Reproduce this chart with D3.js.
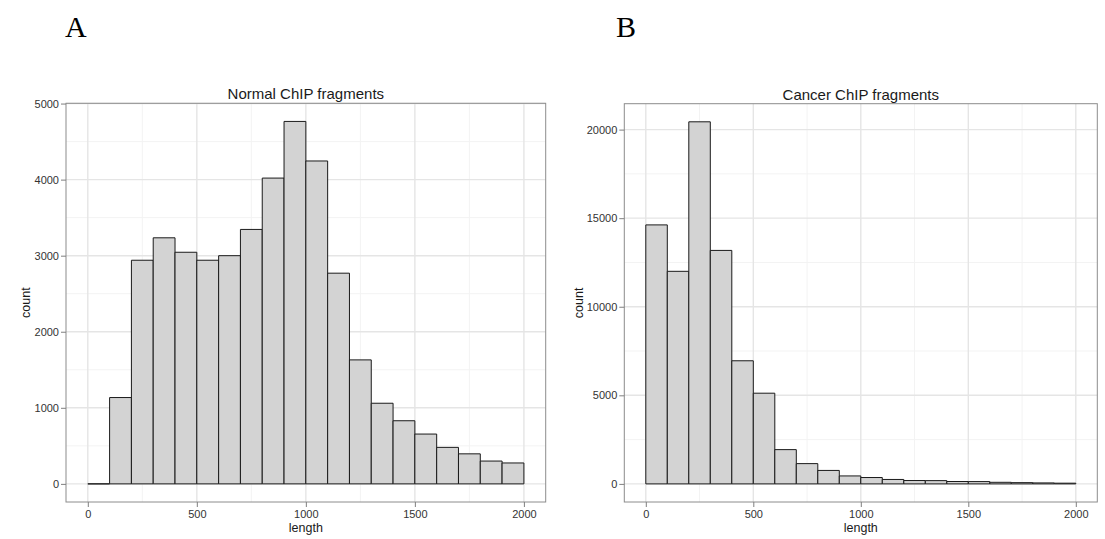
<!DOCTYPE html>
<html>
<head>
<meta charset="utf-8">
<script src="https://cdn.jsdelivr.net/npm/d3@7"></script>
<style>
  body { margin: 0; background: #fff; }
  svg { display: block; }
</style>
</head>
<body>
<div id="chart"></div>
<script>
// Canvas size
const width = 1105;
const height = 539;

// Histogram bins (length, bin width 100)
const binStarts = [0, 100, 200, 300, 400, 500, 600, 700, 800, 900,
  1000, 1100, 1200, 1300, 1400, 1500, 1600, 1700, 1800, 1900];
const binWidth = 100;

// Counts
const normalCounts = [0, 1135, 2940, 3235, 3045, 2940, 3000, 3345, 4020, 4765,
  4245, 2770, 1630, 1060, 830, 655, 480, 395, 300, 275];
const cancerCounts = [14620, 12000, 20440, 13180, 6950, 5120, 1935, 1145, 760, 450,
  360, 250, 190, 185, 135, 130, 90, 70, 55, 40];

// Tick labels
const xTicks = [0, 500, 1000, 1500, 2000];
const normalYTicks = [0, 1000, 2000, 3000, 4000, 5000];
const cancerYTicks = [0, 5000, 10000, 15000, 20000];

const svg = d3.select("#chart")
  .append("svg")
  .attr("width", width)
  .attr("height", height);

// Panel letters
svg.append("text").attr("x", 65).attr("y", 37)
  .style("font-family", "Liberation Serif, Times New Roman, serif")
  .style("font-size", "30px").text("A");
svg.append("text").attr("x", 616).attr("y", 37)
  .style("font-family", "Liberation Serif, Times New Roman, serif")
  .style("font-size", "30px").text("B");

function drawPanel(opts) {
  const { left, right, top, bottom, counts, yTicks, title } = opts;
  const maxY = d3.max(counts);
  const pad = maxY * 0.05;

  const x = d3.scaleLinear().domain([-100, 2100]).range([left, right]);
  const y = d3.scaleLinear().domain([-pad, maxY + pad]).range([bottom, top]);

  const g = svg.append("g");

  // minor grid
  const step = yTicks[1] - yTicks[0];
  const yMinor = d3.range(yTicks[0] + step / 2, maxY + pad, step);
  const xMinor = [250, 750, 1250, 1750];
  g.selectAll(".ymin").data(yMinor).join("line")
    .attr("x1", left).attr("x2", right)
    .attr("y1", d => y(d)).attr("y2", d => y(d))
    .attr("stroke", "#f3f3f3").attr("stroke-width", 1);
  g.selectAll(".xmin").data(xMinor).join("line")
    .attr("y1", top).attr("y2", bottom)
    .attr("x1", d => x(d)).attr("x2", d => x(d))
    .attr("stroke", "#f3f3f3").attr("stroke-width", 1);

  // major grid
  g.selectAll(".ymaj").data(yTicks).join("line")
    .attr("x1", left).attr("x2", right)
    .attr("y1", d => y(d)).attr("y2", d => y(d))
    .attr("stroke", "#e5e5e5").attr("stroke-width", 1.4);
  g.selectAll(".xmaj").data(xTicks).join("line")
    .attr("y1", top).attr("y2", bottom)
    .attr("x1", d => x(d)).attr("x2", d => x(d))
    .attr("stroke", "#e5e5e5").attr("stroke-width", 1.4);

  // bars as closed outlines, so empty bins still show a line at 0
  g.selectAll(".bar").data(counts).join("path")
    .attr("d", (d, i) => {
      const x0 = x(binStarts[i]);
      const x1 = x(binStarts[i] + binWidth);
      return `M${x0},${y(0)}V${y(d)}H${x1}V${y(0)}Z`;
    })
    .attr("fill", "#d3d3d3")
    .attr("stroke", "#1a1a1a")
    .attr("stroke-width", 1);

  // panel border
  g.append("rect")
    .attr("x", left).attr("y", top)
    .attr("width", right - left).attr("height", bottom - top)
    .attr("fill", "none").attr("stroke", "#8c8c8c").attr("stroke-width", 1);

  // axes
  const yAxis = g.append("g")
    .attr("transform", `translate(${left},0)`)
    .call(d3.axisLeft(y).tickValues(yTicks).tickSize(5).tickPadding(2).tickFormat(d3.format("d")));
  const xAxis = g.append("g")
    .attr("transform", `translate(0,${bottom})`)
    .call(d3.axisBottom(x).tickValues(xTicks).tickSize(5).tickPadding(3).tickFormat(d3.format("d")));
  [yAxis, xAxis].forEach(a => {
    a.select(".domain").remove();
    a.selectAll(".tick line").attr("stroke", "#7f7f7f");
    a.selectAll("text")
      .style("font-family", "Liberation Sans, Arial, sans-serif")
      .style("font-size", "11px")
      .attr("fill", "#333333");
  });

  // title
  g.append("text")
    .attr("x", (left + right) / 2).attr("y", top - 4)
    .attr("text-anchor", "middle")
    .style("font-family", "Liberation Sans, Arial, sans-serif")
    .style("font-size", "15px")
    .attr("fill", "#1a1a1a")
    .text(title);

  // axis titles
  g.append("text")
    .attr("x", x(1000)).attr("y", 532)
    .attr("text-anchor", "middle")
    .style("font-family", "Liberation Sans, Arial, sans-serif")
    .style("font-size", "12.5px")
    .attr("fill", "#1a1a1a")
    .text("length");
  g.append("text")
    .attr("transform", `translate(${opts.yTitleX},${(top + bottom) / 2}) rotate(-90)`)
    .attr("text-anchor", "middle")
    .style("font-family", "Liberation Sans, Arial, sans-serif")
    .style("font-size", "12.5px")
    .attr("fill", "#1a1a1a")
    .text("count");
}

drawPanel({
  left: 66, right: 545.7, top: 103.3, bottom: 502,
  counts: normalCounts, yTicks: normalYTicks,
  title: "Normal ChIP fragments", yTitleX: 30
});

drawPanel({
  left: 624.3, right: 1097.3, top: 103.7, bottom: 502,
  counts: cancerCounts, yTicks: cancerYTicks,
  title: "Cancer ChIP fragments", yTitleX: 583
});
</script>
</body>
</html>
